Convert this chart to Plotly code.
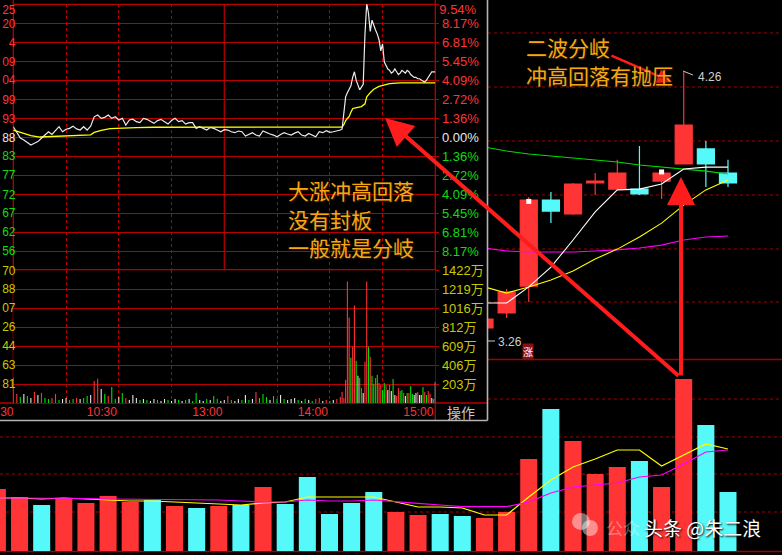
import plotly.graph_objects as go

W, H = 782, 555

# ---------------- daily chart data (bar index 0..33) ----------------
day_vol = [62, 54, 46, 53, 48, 55, 49, 51, 45, 43, 45, 46, 64, 47, 74, 37, 48, 59, 39, 36,
           37, 35, 33, 39, 92, 142, 110, 77, 84, 90, 64, 172, 126, 59]
day_up = [1, 1, 0, 1, 1, 1, 1, 0, 1, 0, 1, 0, 1, 0, 0, 0, 0, 0, 1, 1,
          0, 0, 1, 1, 1, 0, 1, 1, 1, 0, 1, 1, 0, 0]
vol_ma5 = [53, 53, 52, 53, 52, 51, 50, 50, 49, 48, 47, 46, 48, 49, 54, 54, 54, 54, 49, 44,
           44, 43, 36, 36, 54, 71, 84, 92, 101, 101, 85, 96, 107, 102]
vol_ma10 = [53, 53, 52.5, 52.5, 52.5, 52, 51.7, 51.7, 51.7, 51.3, 51, 50, 49, 49, 51, 50, 50, 51, 49, 47.7,
            46, 44.3, 44.3, 44.3, 49, 58, 64, 66, 68, 74, 76, 87, 99, 101]

# candles visible on the right (bar index 22..33)
cdl_first = 22
cdl_open = [3.304, 3.360, 3.460, 3.781, 3.729, 3.845, 3.822, 3.822, 3.852, 3.916, 3.972, 3.882]
cdl_high = [3.340, 3.449, 3.792, 3.811, 3.845, 3.882, 3.931, 3.983, 3.889, 4.260, 4.001, 3.931]
cdl_low = [3.300, 3.341, 3.401, 3.695, 3.725, 3.800, 3.820, 3.800, 3.785, 3.916, 3.830, 3.830]
cdl_close = [3.337, 3.438, 3.781, 3.740, 3.841, 3.852, 3.882, 3.804, 3.882, 4.061, 3.916, 3.845]
ma5 = [3.397, 3.397, 3.457, 3.531, 3.632, 3.737, 3.819, 3.822, 3.841, 3.897, 3.904, 3.904]
ma10 = [3.457, 3.434, 3.457, 3.483, 3.516, 3.561, 3.598, 3.643, 3.695, 3.762, 3.819, 3.856]
ma20 = [3.602, 3.591, 3.587, 3.587, 3.587, 3.591, 3.595, 3.602, 3.613, 3.632, 3.643, 3.647]
ma60 = [3.979, 3.964, 3.953, 3.945, 3.938, 3.931, 3.923, 3.912, 3.904, 3.897, 3.889, 3.878]
mark_idx = [24, 30]
mark_price = [3.776, 3.886]

# ---------------- intraday data ----------------
pct_early = [0.76, 0.40, -0.05, -0.19, -0.35, -0.55, -0.43, -0.31, -0.07, 0.16,
             0.40, 0.20, 0.52, 0.76, 0.40, 0.58, 0.64, 0.80, 0.60, 0.52,
             0.76, 0.52, 0.80, 1.47, 1.60, 1.36, 1.43, 1.60, 1.36, 1.47,
             1.24, 1.36, 0.88, 1.24, 1.30, 1.12, 1.05, 1.36, 1.29, 1.12,
             1.00, 1.20, 1.29, 1.12, 0.95, 1.20, 1.36, 1.12, 1.20, 0.95,
             1.05, 1.05, 0.64, 0.76, 0.64, 0.52, 0.70, 0.64, 0.52, 0.40,
             0.55, 0.52, 0.40, 0.33, 0.45, 0.40, 0.09, 0.24, 0.33, 0.16,
             0.09, 0.45, 0.33, 0.24, 0.16, 0.04, 0.20, 0.33, 0.24, 0.16,
             0.30, 0.40, 0.16, 0.09, 0.28, 0.16, 0.04, 0.40, 0.33, 0.47,
             0.36, 0.40, 0.45, 0.52]
pct_late = [0.6, 1.9, 2.9, 3.2, 3.5, 3.7, 4.3, 4.7, 4.1, 3.7,
            3.4, 3.6, 3.8, 7.4, 9.6, 8.9, 7.6, 8.4, 8.0, 7.7,
            7.4, 7.0, 6.2, 6.7, 5.4, 5.1, 4.9, 4.8, 4.6, 4.7,
            4.9, 4.7, 4.5, 4.6, 4.8, 4.7, 4.6, 4.8, 4.7, 4.5,
            4.4, 4.3, 4.3, 4.2, 4.2, 4.1, 4.0, 3.95, 4.1, 4.3,
            4.5, 4.7, 4.7, 4.7]
avg_min = [0, 5, 10, 15, 20, 25, 30, 35, 40, 44, 46, 50, 55, 60, 70, 80, 100, 120, 140, 160,
           180, 187, 188, 189, 190, 191, 192, 193, 194, 196, 198, 200, 201, 203, 205, 208, 211, 214, 220, 240]
avg_pct = [0.52, 0.30, 0.12, 0.02, 0.05, 0.08, 0.10, 0.12, 0.14, 0.18, 0.35, 0.50, 0.62, 0.66, 0.70, 0.72, 0.72, 0.72, 0.72, 0.72,
           0.72, 0.74, 0.9, 1.2, 1.35, 1.5, 1.8, 2.05, 2.1, 2.15, 2.2, 2.4, 2.9, 3.2, 3.45, 3.65, 3.75, 3.85, 3.9, 3.9]
vol_early = [270, 97, 65, 97, 75, 54, 118, 86, 108, 54,
             43, 54, 97, 32, 43, 54, 32, 43, 54, 43,
             54, 75, 86, 237, 259, 151, 97, 75, 172, 43,
             65, 108, 54, 32, 86, 54, 32, 43, 32, 22,
             43, 32, 22, 43, 32, 22, 43, 32, 22, 32,
             43, 22, 108, 32, 22, 43, 32, 75, 43, 22,
             32, 75, 32, 22, 43, 32, 86, 32, 43, 118,
             54, 97, 65, 32, 75, 43, 86, 43, 32, 43,
             54, 32, 22, 43, 32, 22, 43, 54, 22, 32,
             22, 32, 43, 65]
dir_early = list("grgwgwrwrg" "grrgwwrgrw" "ggwrrwgrgg" "wgrwwwgwgw" "wgwwgwwgwg"
                 "wggwwgwggw" "wrgwwgwgwr" "gggwggwgww" "wgwgwgrrwr" "gwrr")
vol_late = [118, 54, 248, 1303, 915, 485, 603, 1045, 452, 291,
            269, 162, 108, 442, 1303, 603, 495, 291, 205, 269,
            302, 215, 194, 140, 215, 194, 140, 194, 129, 258,
            86, 75, 162, 129, 140, 108, 75, 108, 108, 183,
            97, 86, 108, 118, 86, 86, 172, 118, 86, 129,
            97, 54, 43, 226]
dir_late = list("rrrrrgrrgw" "grwrrgrggr" "grrggrwrwg" "wrrggrwgrg" "gwwrwwgrgr" "rwrw")

min_early = list(range(0, 187, 2))
min_late = list(range(187, 241))

pct_top = 9.54
pct_top_label = "9.54%"
pct_top_frag = "25"
pct_ticks = [8.17, 6.81, 5.45, 4.09, 2.72, 1.36, 0, -1.36, -2.72, -4.09, -5.45, -6.81, -8.17]
pct_labels = ["8.17%", "6.81%", "5.45%", "4.09%", "2.72%", "1.36%", "0.00%",
              "1.36%", "2.72%", "4.09%", "5.45%", "6.81%", "8.17%"]
price_frag = ["20", "4", "09", "04", "99", "93", "88", "83", "77", "72", "67", "62", "56"]
vol_ticks = [203, 406, 609, 812, 1016, 1219, 1422]
vol_labels = ["203万", "406万", "609万", "812万", "1016万", "1219万", "1422万"]
vol_frag = ["81", "63", "44", "26", "07", "88", "70"]
time_ticks = [6, 60, 120, 180, 240]
time_labels = ["30", "10:30", "13:00", "14:00", "15:00"]

# ---------------- styles ----------------
RED = "#ff3434"
CYAN = "#56f9f9"
GRID = "#b80000"
DGRID = "#a00000"
TGREEN = "#10dc10"
TYEL = "#c8c800"
TWHITE = "#e8e8e8"
GOLD = "#f6a712"
CJK = "Noto Sans CJK SC"
NUMF = "Liberation Sans, Noto Sans CJK SC"
DIRC = {"r": RED, "g": "#00e000", "w": "#e6e6e6"}

fig = go.Figure()

# daily volume
day_idx = list(range(len(day_vol)))
fig.add_trace(go.Bar(x=day_idx, y=day_vol, width=0.77,
                     marker=dict(color=[RED if u else CYAN for u in day_up], line=dict(width=0)),
                     xaxis="x2", yaxis="y2"))
fig.add_trace(go.Scatter(x=day_idx, y=vol_ma5, mode="lines", line=dict(color="#ffff00", width=1.2),
                         xaxis="x2", yaxis="y2"))
fig.add_trace(go.Scatter(x=day_idx, y=vol_ma10, mode="lines", line=dict(color="#ff00ff", width=1.2),
                         xaxis="x2", yaxis="y2"))

# daily candles
cdl_idx = list(range(cdl_first, cdl_first + len(cdl_open)))
fig.add_trace(go.Candlestick(x=cdl_idx, open=cdl_open, high=cdl_high, low=cdl_low, close=cdl_close,
                             increasing=dict(line=dict(color=RED, width=1.2), fillcolor=RED),
                             decreasing=dict(line=dict(color=CYAN, width=1.2), fillcolor=CYAN),
                             whiskerwidth=0, xaxis="x", yaxis="y"))
for vals, col in [(ma60, "#00dd00"), (ma20, "#ff00ff"), (ma10, "#ffff00"), (ma5, "#ffffff")]:
    fig.add_trace(go.Scatter(x=cdl_idx, y=vals, mode="lines", line=dict(color=col, width=1.1),
                             xaxis="x", yaxis="y"))
fig.add_trace(go.Scatter(x=mark_idx, y=mark_price, mode="markers",
                         marker=dict(symbol="square", color="white", size=5), xaxis="x", yaxis="y"))

# intraday volume
fig.add_trace(go.Bar(x=min_early + min_late, y=vol_early + vol_late, width=0.62,
                     marker=dict(color=[DIRC[d] for d in dir_early + dir_late], line=dict(width=0)),
                     xaxis="x3", yaxis="y4"))
# intraday price & average
fig.add_trace(go.Scatter(x=avg_min, y=avg_pct, mode="lines", line=dict(color="#ffff00", width=1.3),
                         xaxis="x3", yaxis="y3"))
fig.add_trace(go.Scatter(x=min_early + min_late, y=pct_early + pct_late, mode="lines",
                         line=dict(color="#ececec", width=1.2), xaxis="x3", yaxis="y3"))
# empty carriers so the label-only overlay axes get drawn
for xa, ya in [("x4", "y4"), ("x3", "y5"), ("x3", "y6"), ("x3", "y7"), ("x3", "y8")]:
    fig.add_trace(go.Scatter(x=[120], y=[0], mode="markers", marker=dict(size=1, opacity=0),
                             xaxis=xa, yaxis=ya))


def span(t, c):
    return f'<span style="color:{c}">{t}</span>'


def sign_col(v):
    return RED if v > 0 else (TWHITE if v == 0 else TGREEN)


pct_text = [span(t, sign_col(v)) for t, v in zip(pct_labels, pct_ticks)]
frag_text = [span(t, sign_col(v)) for t, v in zip(price_frag, pct_ticks)]


def hl(y, x0, x1, color, width=1, dash=None, layer="below"):
    return dict(type="line", xref="paper", yref="paper", x0=x0 / W, x1=x1 / W, y0=1 - y / H, y1=1 - y / H,
                line=dict(color=color, width=width, dash=dash), layer=layer)


def vl(x, y0, y1, color, width=1, dash=None, layer="below"):
    return dict(type="line", xref="paper", yref="paper", x0=x / W, x1=x / W, y0=1 - y0 / H, y1=1 - y1 / H,
                line=dict(color=color, width=width, dash=dash), layer=layer)


shapes = []
for y in [33, 87, 141, 195, 249, 302, 399]:
    shapes.append(hl(y, 488, 782, DGRID, 1, "dot"))
for y in [437, 474, 512]:
    shapes.append(hl(y, 0, 782, DGRID, 1, "dot"))
shapes.append(hl(359.5, 488, 782, DGRID, 1.5))
shapes.append(hl(551.5, 0, 782, DGRID, 1.5))
# inset frame
shapes.append(hl(4.3, 13, 435, GRID, 1.2))
shapes.append(hl(270.3, 13, 435, GRID, 2.6))
shapes.append(hl(403, 0, 487, GRID, 1.3))
shapes.append(vl(13.3, 0, 403, GRID, 1.3))
shapes.append(vl(435.3, 0, 420, GRID, 1.3))
shapes.append(hl(4.3, 435, 439, GRID, 1.2))
shapes.append(dict(type="line", xref="x3", yref="paper", x0=120, x1=120, y0=1 - 403 / H, y1=1 - 4.3 / H,
                   line=dict(color=GRID, width=1.2), layer="below"))
shapes.append(vl(487.5, 0, 420.5, "#b4b4b4", 1.6, layer="above"))
shapes.append(hl(420.5, 0, 487.5, "#b4b4b4", 1.6, layer="above"))
# small pointer lines
shapes.append(dict(type="line", xref="paper", yref="paper", x0=683 / W, x1=693 / W, y0=1 - 71 / H, y1=1 - 75 / H,
                   line=dict(color="#c8c8c8", width=1), layer="above"))
shapes.append(hl(341, 487, 495, "#c8c8c8", 1, layer="above"))
# watermark icon
shapes.append(dict(type="circle", xref="paper", yref="paper", x0=572 / W, x1=590 / W, y0=1 - 530 / H, y1=1 - 513 / H,
                   fillcolor="rgba(255,255,255,0.45)", line=dict(width=0), layer="above"))
shapes.append(dict(type="circle", xref="paper", yref="paper", x0=582 / W, x1=598 / W, y0=1 - 536 / H, y1=1 - 520 / H,
                   fillcolor="rgba(255,255,255,0.45)", line=dict(width=0), layer="above"))


def note(x, y, text, size, color, xanchor="left", family=CJK, shadow="1px 1px 2px #3a2200", **kw):
    return dict(x=x / W, y=1 - y / H, xref="paper", yref="paper", text=text, showarrow=False,
                xanchor=xanchor, yanchor="middle", font=dict(family=family, size=size, color=color, shadow=shadow), **kw)


def arrow(hx, hy, tx, ty, width, size):
    return dict(x=hx / W, y=1 - hy / H, xref="paper", yref="paper", ax=tx - hx, ay=ty - hy,
                axref="pixel", ayref="pixel", text="", showarrow=True, arrowhead=2,
                arrowsize=size, arrowwidth=width, arrowcolor="#ff1c1c", standoff=0)


annotations = [
    arrow(385, 118, 680, 377, 4, 1.4),
    arrow(681, 177, 681, 377, 4, 1.4),
    arrow(672, 82, 610, 55, 2.5, 1.2),
    note(524, 47, "二波分岐", 21, GOLD),
    note(524, 75, "冲高回落有抛压", 21, GOLD),
    note(286, 190, "大涨冲高回落", 21, GOLD),
    note(286, 219, "没有封板", 21, GOLD),
    note(286, 247, "一般就是分岐", 21, GOLD),
    note(696, 77, "4.26", 12, "#cfcfcf", family=NUMF, shadow="none"),
    note(496, 341.5, "3.26", 12, "#cfcfcf", family=NUMF, shadow="none"),
    note(527.5, 351.5, "涨", 10, "white", xanchor="center", shadow="none", bgcolor="#8a1010", borderpad=0),
    note(461, 412, "操作", 14, "#c8c8c8", xanchor="center", shadow="none"),
    note(604, 527, "公众", 17, "rgba(255,255,255,0.35)", shadow="none"),
    note(642, 527, "头条 @朱二浪", 19, "white", shadow="1px 1px 2px #000000"),
]

axis_off = dict(visible=False, fixedrange=True, automargin=False)
lab = dict(automargin=False, showline=False, zeroline=False, ticklabeloverflow="allow", fixedrange=True)
left_lab = dict(anchor="free", position=15.5 / W, side="left", showgrid=False, ticks="", **lab)
fig.update_layout(
    template="none",
    width=W, height=H, autosize=False, margin=dict(l=0, r=0, t=0, b=0, pad=0),
    paper_bgcolor="black", plot_bgcolor="black", showlegend=False, hovermode=False,
    boxgap=0.23, boxgroupgap=0,
    xaxis=dict(domain=[487.5 / W, 1], range=[22.135, 35.44], anchor="y", rangeslider=dict(visible=False), **axis_off),
    yaxis=dict(domain=[1 - 359 / H, 1], range=[3.188, 4.5275], anchor="x", **axis_off),
    xaxis2=dict(domain=[0, 1], range=[0.1174, 35.44], anchor="y2", **axis_off),
    yaxis2=dict(domain=[1 - 551 / H, 1 - 360 / H], range=[0, 191], anchor="x2", **axis_off),
    xaxis3=dict(domain=[13.3 / W, 435.3 / W], range=[0, 240], anchor="y4", showgrid=True, gridcolor=GRID,
                griddash="dot", gridwidth=1, tickvals=[30, 60, 90, 150, 180, 210], showticklabels=False,
                ticks="", **lab),
    xaxis4=dict(overlaying="x3", anchor="y4", side="bottom", range=[0, 240], tickvals=time_ticks,
                ticktext=time_labels, showgrid=False, ticks="", ticklabelshift=-17,
                tickfont=dict(family=NUMF, size=12, color=RED), **lab),
    yaxis3=dict(domain=[1 - 270.3 / H, 1 - 4.3 / H], range=[-9.54, 9.54], anchor="x3", side="right",
                tickvals=pct_ticks, ticktext=pct_text, showgrid=True, gridcolor=GRID, gridwidth=1,
                ticks="outside", ticklen=3, tickcolor=GRID,
                tickfont=dict(family=NUMF, size=13, color=RED), **lab),
    yaxis7=dict(overlaying="y3", anchor="x3", side="right", range=[-9.54, 9.54], tickvals=[pct_top],
                ticktext=[pct_top_label], showgrid=False, ticks="", ticklabelshift=5, ticklabelstandoff=3,
                tickfont=dict(family=NUMF, size=13, color=RED), **lab),
    yaxis5=dict(overlaying="y3", range=[-9.54, 9.54], tickvals=pct_ticks, ticktext=frag_text,
                tickfont=dict(family=NUMF, size=12, color=RED), **left_lab),
    yaxis8=dict(overlaying="y3", range=[-9.54, 9.54], tickvals=[pct_top], ticktext=[pct_top_frag],
                ticklabelshift=5, tickfont=dict(family=NUMF, size=12, color=RED), **left_lab),
    yaxis4=dict(domain=[1 - 403 / H, 1 - 270.3 / H], range=[0, 1422], anchor="x3", side="right",
                tickvals=vol_ticks, ticktext=vol_labels, showgrid=True, gridcolor=GRID, gridwidth=1,
                ticks="outside", ticklen=3, tickcolor=GRID,
                tickfont=dict(family=NUMF, size=13, color=TYEL), **lab),
    yaxis6=dict(overlaying="y4", range=[0, 1422], tickvals=vol_ticks, ticktext=vol_frag,
                tickfont=dict(family=NUMF, size=12, color=TYEL), **left_lab),
    shapes=shapes,
    annotations=annotations,
)

fig.write_html("out.html", config={"displayModeBar": False, "staticPlot": True},
               post_script="document.body.style.margin='0';document.body.style.padding='0';"
                           "document.body.style.overflow='hidden';")
